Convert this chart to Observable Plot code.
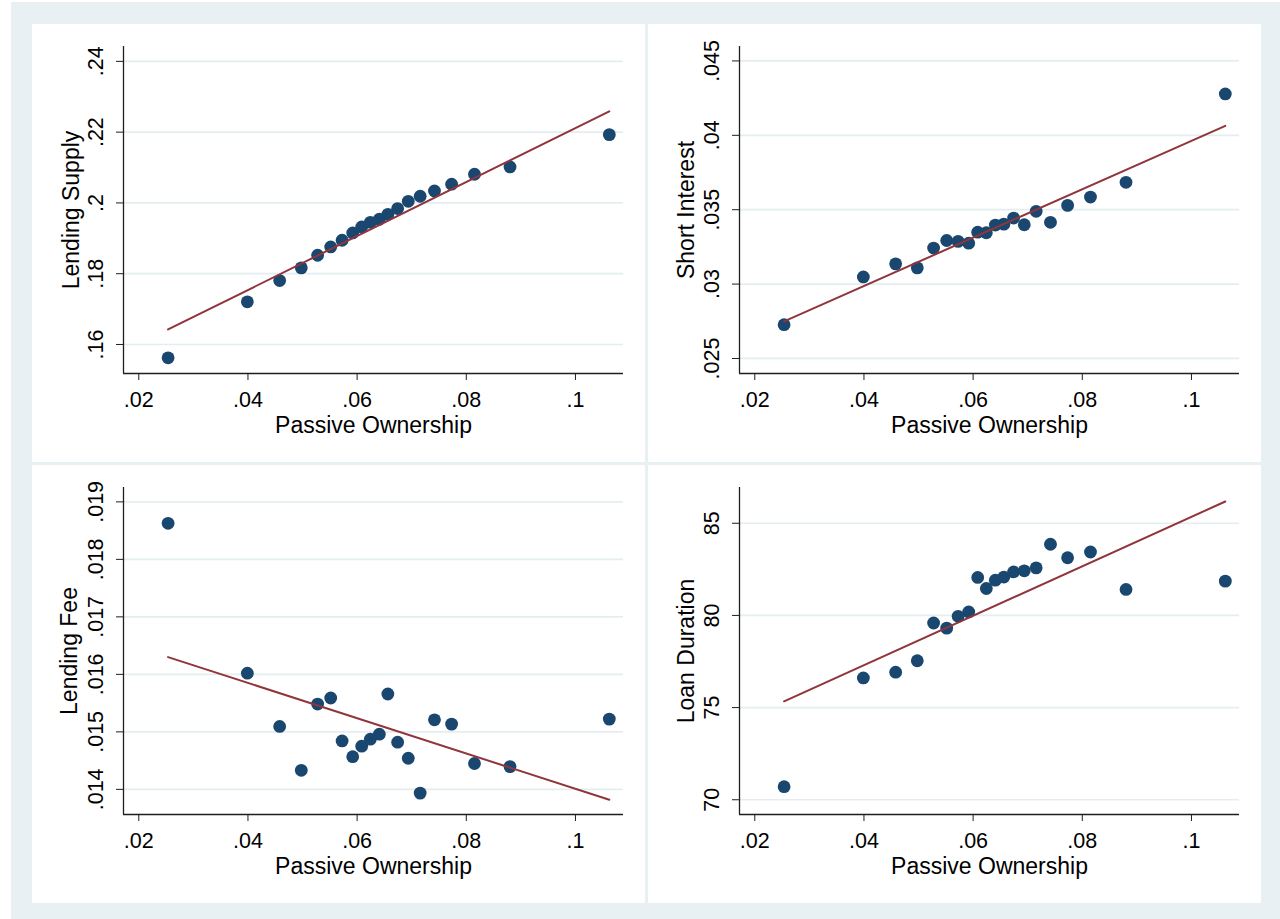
<!DOCTYPE html>
<html>
<head>
<meta charset="utf-8">
<script src="https://cdn.jsdelivr.net/npm/d3@7"></script>
<script src="https://cdn.jsdelivr.net/npm/@observablehq/plot@0.6"></script>
<style>
  body { margin: 0; background: #ffffff; }
  #bg { position: absolute; left: 11px; top: 2px; width: 1269px; height: 917px; background: #e8f0f3; }
  .panel { position: absolute; width: 613px; height: 438px; background: #ffffff; }
  .panel svg { display: block; }
</style>
</head>
<body>
<div id="bg"></div>
<div id="p0" class="panel" style="left:32px;top:24px"></div>
<div id="p1" class="panel" style="left:648px;top:24px"></div>
<div id="p2" class="panel" style="left:32px;top:465px"></div>
<div id="p3" class="panel" style="left:648px;top:465px"></div>
<script>
// ---- Data (binned scatter) ----
const passiveOwnership = [0.02537, 0.03989, 0.04581, 0.04977, 0.05276, 0.05516, 0.05725, 0.05919, 0.06084, 0.06242,
                          0.06407, 0.06563, 0.06742, 0.06937, 0.07155, 0.07417, 0.07731, 0.08150, 0.08801, 0.10620];
const lendingSupply = [0.15624, 0.17205, 0.17807, 0.18165, 0.18522, 0.18756, 0.18945, 0.19151, 0.19321, 0.19453,
                       0.19538, 0.19679, 0.19840, 0.20046, 0.20188, 0.20337, 0.20530, 0.20810, 0.21016, 0.21930];
const shortInterest = [0.02727, 0.03048, 0.03136, 0.03109, 0.03242, 0.03293, 0.03287, 0.03275, 0.03349, 0.03345,
                       0.03397, 0.03403, 0.03444, 0.03399, 0.03489, 0.03415, 0.03529, 0.03585, 0.03684, 0.04278];
const lendingFee = [0.018627, 0.016020, 0.015094, 0.014332, 0.015484, 0.015589, 0.014843, 0.014569, 0.014751, 0.014873,
                    0.014960, 0.015659, 0.014821, 0.014541, 0.013935, 0.015210, 0.015135, 0.014450, 0.014396, 0.015222];
const loanDuration = [70.71, 76.61, 76.92, 77.54, 79.59, 79.31, 79.95, 80.19, 82.06, 81.46,
                      81.91, 82.08, 82.36, 82.42, 82.58, 83.86, 83.13, 83.44, 81.41, 81.86];

// Fitted lines (end points)
const fitX = [0.02537, 0.10620];
const fitLendingSupply = [0.16424, 0.22588];
const fitShortInterest = [0.02749, 0.04064];
const fitLendingFee = [0.01630, 0.01382];
const fitLoanDuration = [75.34, 86.18];

// Axes
const xTitle = "Passive Ownership";
const xTicks = [0.02, 0.04, 0.06, 0.08, 0.10];
const xTickLabels = [".02", ".04", ".06", ".08", ".1"];
const xDomain = [0.0172, 0.1088];

const lsTicks = [0.16, 0.18, 0.20, 0.22, 0.24];
const lsTickLabels = [".16", ".18", ".2", ".22", ".24"];
const siTicks = [0.025, 0.030, 0.035, 0.040, 0.045];
const siTickLabels = [".025", ".03", ".035", ".04", ".045"];
const lfTicks = [0.014, 0.015, 0.016, 0.017, 0.018, 0.019];
const lfTickLabels = [".014", ".015", ".016", ".017", ".018", ".019"];
const ldTicks = [70, 75, 80, 85];
const ldTickLabels = ["70", "75", "80", "85"];

// ---- Styling ----
const NAVY = "#1a476f";
const MAROON = "#90353b";
const GRID = "#e4edf0";
const AXIS = "#1e1e1e";
const FONT = "'Liberation Sans', Arial, Helvetica, sans-serif";

function panel(el, cfg) {
  const pts = passiveOwnership.map((x, i) => ({x, y: cfg.values[i]}));
  const fit = fitX.map((x, i) => ({x, y: cfg.fit[i]}));
  const yt = cfg.ticks.map((v, i) => ({v, label: cfg.tickLabels[i]}));
  const chart = Plot.plot({
    width: 613,
    height: 438,
    marginLeft: 91,
    marginRight: 22,
    marginTop: 22,
    marginBottom: 89,
    style: {fontFamily: FONT, background: "#ffffff", color: "#000000", overflow: "visible"},
    x: {domain: xDomain},
    y: {domain: cfg.domain},
    marks: [
      Plot.ruleY(cfg.ticks, {stroke: GRID, strokeWidth: 1.7}),
      Plot.ruleX([xDomain[0]], {stroke: AXIS, strokeWidth: 1.3}),
      Plot.ruleY([cfg.domain[0]], {stroke: AXIS, strokeWidth: 1.3}),
      Plot.axisX(xTicks, {
        tickSize: 7, tickPadding: 11, stroke: AXIS, fontSize: 21.5,
        tickFormat: d => xTickLabels[xTicks.indexOf(d)], label: null
      }),
      Plot.axisY(cfg.ticks, {tickSize: 7, stroke: AXIS, tickFormat: () => "", label: null}),
      Plot.text(yt, {
        y: "v", text: "label", frameAnchor: "left", rotate: -90, dx: -27,
        textAnchor: "middle", lineAnchor: "middle", fontSize: 21.5, fill: "#000"
      }),
      Plot.text([cfg.title], {
        frameAnchor: "left", rotate: -90, dx: cfg.titleDx,
        textAnchor: "middle", lineAnchor: "middle", fontSize: 23, fill: "#000"
      }),
      Plot.text([xTitle], {
        frameAnchor: "bottom", dy: 52, textAnchor: "middle", lineAnchor: "middle",
        fontSize: 23, fill: "#000"
      }),
      Plot.dot(pts, {x: "x", y: "y", r: 6.4, fill: NAVY, stroke: null}),
      Plot.line(fit, {x: "x", y: "y", stroke: MAROON, strokeWidth: 2})
    ]
  });
  document.getElementById(el).appendChild(chart);
}

panel("p0", {title: "Lending Supply", values: lendingSupply, fit: fitLendingSupply,
  ticks: lsTicks, tickLabels: lsTickLabels, domain: [0.1518, 0.2442], titleDx: -52});
panel("p1", {title: "Short Interest", values: shortInterest, fit: fitShortInterest,
  ticks: siTicks, tickLabels: siTickLabels, domain: [0.02399, 0.04597], titleDx: -53});
panel("p2", {title: "Lending Fee", values: lendingFee, fit: fitLendingFee,
  ticks: lfTicks, tickLabels: lfTickLabels, domain: [0.013563, 0.01925], titleDx: -53.5});
panel("p3", {title: "Loan Duration", values: loanDuration, fit: fitLoanDuration,
  ticks: ldTicks, tickLabels: ldTickLabels, domain: [69.2, 86.94], titleDx: -53});
</script>
</body>
</html>
